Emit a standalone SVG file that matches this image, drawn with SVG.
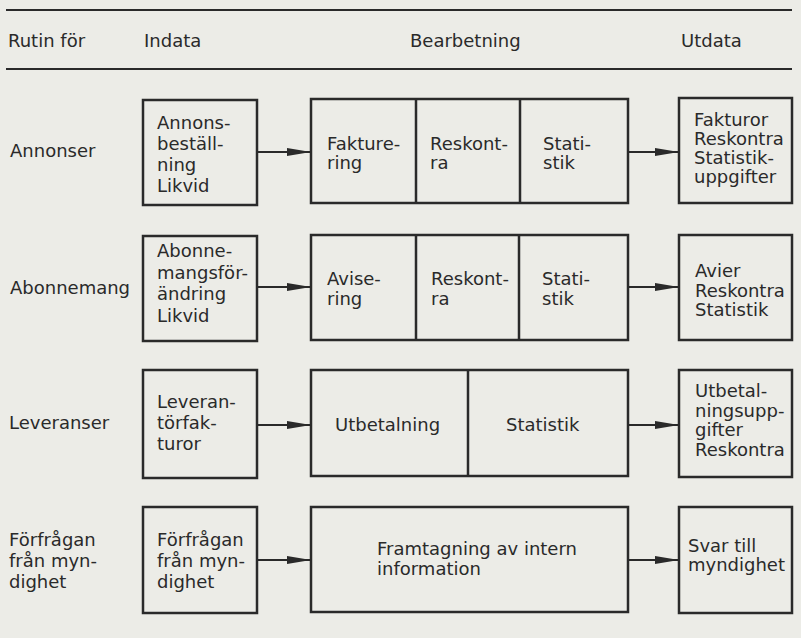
<svg xmlns="http://www.w3.org/2000/svg" width="801" height="638" viewBox="0 0 801 638">
<style>
text{font-family:"DejaVu Sans","Liberation Sans",sans-serif;font-size:18px;fill:#2a2a2a}
.box{fill:none;stroke:#2a2a2a;stroke-width:2.5}
.rule{stroke:#2a2a2a;stroke-width:2}
.conn{stroke:#2a2a2a;stroke-width:2;fill:none;marker-end:url(#ah)}
</style>
<defs>
<marker id="ah" markerUnits="userSpaceOnUse" markerWidth="26" markerHeight="10" refX="24" refY="5" orient="auto">
<path d="M0,1 L24,5 L0,9 Z" fill="#2a2a2a"/>
</marker>
</defs>
<rect x="0" y="0" width="801" height="638" fill="#ecece7"/>
<g id="header">
<line class="rule" x1="6" y1="10" x2="792" y2="10"/>
<line class="rule" x1="6" y1="69" x2="792" y2="69"/>
<text x="8" y="47">Rutin för</text>
<text x="144" y="47">Indata</text>
<text x="410" y="47">Bearbetning</text>
<text x="681" y="47">Utdata</text>
</g>
<g id="labels">
<text x="10" y="157">Annonser</text>
<text x="10" y="294">Abonnemang</text>
<text x="9" y="429">Leveranser</text>
<text x="9" y="546">Förfrågan</text>
<text x="9" y="567">från myn-</text>
<text x="9" y="588">dighet</text>
</g>
<g id="annonser-indata">
<rect class="box" x="143" y="100" width="114" height="105"/>
<text x="157" y="129">Annons-</text>
<text x="157" y="150">beställ-</text>
<text x="157" y="171">ning</text>
<text x="157" y="192">Likvid</text>
</g>
<g id="annonser-bearbetning">
<rect class="box" x="311" y="99" width="317" height="104"/>
<line class="box" x1="416" y1="99" x2="416" y2="203"/>
<line class="box" x1="520" y1="99" x2="520" y2="203"/>
<text x="327" y="150">Fakture-</text>
<text x="327" y="169">ring</text>
<text x="430" y="150">Reskont-</text>
<text x="430" y="169">ra</text>
<text x="543" y="150">Stati-</text>
<text x="543" y="169">stik</text>
</g>
<g id="annonser-utdata">
<rect class="box" x="679" y="98" width="113" height="105"/>
<text x="694" y="126">Fakturor</text>
<text x="694" y="145">Reskontra</text>
<text x="694" y="164">Statistik-</text>
<text x="694" y="183">uppgifter</text>
</g>
<g id="abonnemang-indata">
<rect class="box" x="143" y="236" width="114" height="105"/>
<text x="157" y="257">Abonne-</text>
<text x="157" y="278.5">mangsför-</text>
<text x="157" y="300">ändring</text>
<text x="157" y="321.5">Likvid</text>
</g>
<g id="abonnemang-bearbetning">
<rect class="box" x="311" y="235" width="317" height="105"/>
<line class="box" x1="416" y1="235" x2="416" y2="340"/>
<line class="box" x1="519" y1="235" x2="519" y2="340"/>
<text x="327" y="285">Avise-</text>
<text x="327" y="305">ring</text>
<text x="431" y="285">Reskont-</text>
<text x="431" y="305">ra</text>
<text x="542" y="285">Stati-</text>
<text x="542" y="305">stik</text>
</g>
<g id="abonnemang-utdata">
<rect class="box" x="679" y="235" width="113" height="105"/>
<text x="695" y="277">Avier</text>
<text x="695" y="297">Reskontra</text>
<text x="695" y="316">Statistik</text>
</g>
<g id="leveranser-indata">
<rect class="box" x="143" y="370" width="114" height="108"/>
<text x="157" y="408">Leveran-</text>
<text x="157" y="429">törfak-</text>
<text x="157" y="450">turor</text>
</g>
<g id="leveranser-bearbetning">
<rect class="box" x="311" y="370" width="317" height="106"/>
<line class="box" x1="468" y1="370" x2="468" y2="476"/>
<text x="335" y="431">Utbetalning</text>
<text x="506" y="431">Statistik</text>
</g>
<g id="leveranser-utdata">
<rect class="box" x="679" y="370" width="113" height="107"/>
<text x="695" y="397">Utbetal-</text>
<text x="695" y="417">ningsupp-</text>
<text x="695" y="436">gifter</text>
<text x="695" y="456">Reskontra</text>
</g>
<g id="forfragan-indata">
<rect class="box" x="143" y="507" width="114" height="106"/>
<text x="157" y="546">Förfrågan</text>
<text x="157" y="567">från myn-</text>
<text x="157" y="588">dighet</text>
</g>
<g id="forfragan-bearbetning">
<rect class="box" x="311" y="507" width="317" height="105"/>
<text x="377" y="555">Framtagning av intern</text>
<text x="377" y="575">information</text>
</g>
<g id="forfragan-utdata">
<rect class="box" x="679" y="507" width="113" height="106"/>
<text x="688" y="552">Svar till</text>
<text x="688" y="571">myndighet</text>
</g>
<g id="connectors">
<line class="conn" x1="257" y1="152" x2="311" y2="152"/>
<line class="conn" x1="628" y1="152" x2="679" y2="152"/>
<line class="conn" x1="257" y1="287" x2="311" y2="287"/>
<line class="conn" x1="628" y1="287" x2="679" y2="287"/>
<line class="conn" x1="257" y1="425" x2="311" y2="425"/>
<line class="conn" x1="628" y1="425" x2="679" y2="425"/>
<line class="conn" x1="257" y1="560" x2="311" y2="560"/>
<line class="conn" x1="628" y1="560" x2="679" y2="560"/>
</g>
</svg>
